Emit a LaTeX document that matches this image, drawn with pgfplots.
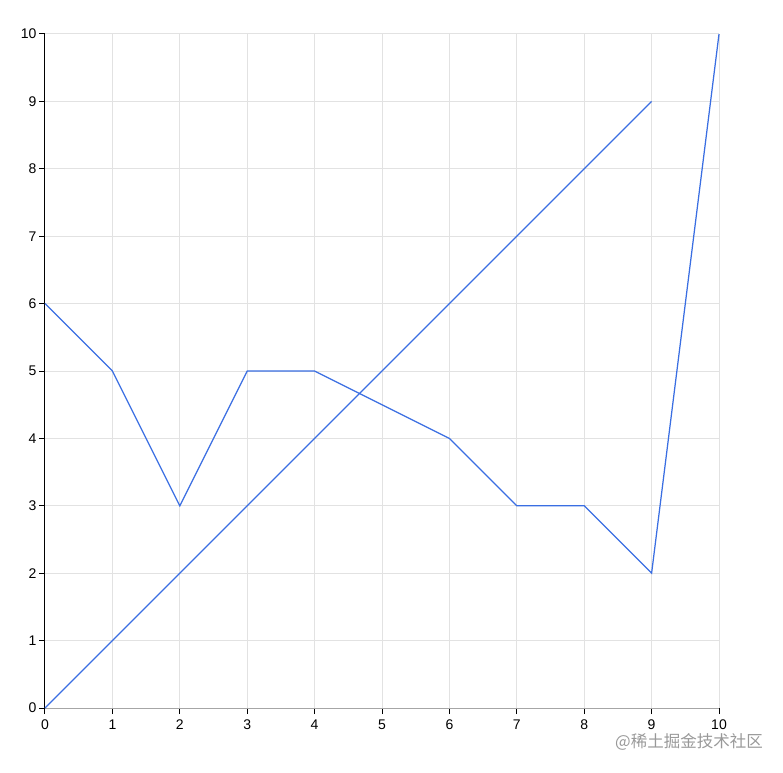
\documentclass[border=0pt]{standalone}
\usepackage{pgfplots}
\pgfplotsset{compat=1.18}
\usepackage{fontspec}
\setmainfont{Liberation Sans}
\newfontfamily\cjk{Noto Sans CJK SC}
\definecolor{lineblue}{RGB}{58,110,226}
\definecolor{gridgray}{RGB}{226,226,226}
\begin{document}
\begin{tikzpicture}
\begin{axis}[
  scale only axis,
  width=674pt, height=674pt,
  xmin=0, xmax=10, ymin=0, ymax=10,
  xtick={0,...,10}, ytick={0,...,10},
  axis lines=left,
  axis line style={-},
  x axis line style={draw=black!35, line width=1pt},
  y axis line style={draw=black, line width=1pt},
  tick align=outside,
  major tick length=6pt,
  tick style={black, line width=1pt},
  grid=major,
  major grid style={gridgray, line width=1pt},
  ticklabel style={font=\fontsize{14}{16}\selectfont},
  /pgf/number format/assume math mode=true,
  xticklabel style={yshift=-2pt},
  yticklabel style={xshift=1pt},
  clip=false,
]
\addplot[lineblue, line width=1.25pt] coordinates {(0,0) (1,1) (2,2) (3,3) (4,4) (5,5) (6,6) (7,7) (8,8) (9,9)};
\addplot[lineblue, line width=1.25pt] coordinates {(0,6) (1,5) (2,3) (3,5) (4,5) (5,4.5) (6,4) (7,3) (8,3) (9,2) (10,10)};
\end{axis}
\node[text=black!40, font=\cjk\fontsize{16.5}{18}\selectfont, anchor=center] at ([shift={(644pt,-34pt)}]current axis.south west) {@稀土掘金技术社区};
\path[use as bounding box] ([shift={(-45pt,-64pt)}]current axis.south west) rectangle ++(783pt,772pt);
\end{tikzpicture}
\end{document}
